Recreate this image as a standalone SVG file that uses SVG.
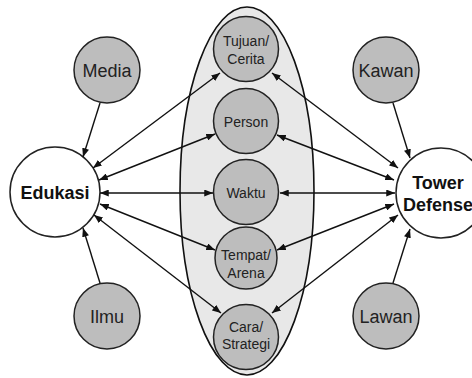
<svg xmlns="http://www.w3.org/2000/svg" width="472" height="378" viewBox="0 0 472 378">
<defs>
<marker id="ah" viewBox="0 0 10 8" refX="10" refY="4" markerWidth="9" markerHeight="7" markerUnits="userSpaceOnUse" orient="auto-start-reverse">
<path d="M0,0 L10,4 L0,8 z" fill="#111"/>
</marker>
</defs>
<style>
.outer{fill:#bdbdbd;stroke:#222;stroke-width:1.5}
.inner{fill:#bdbdbd;stroke:#222;stroke-width:1.5}
.main{fill:#fff;stroke:#222;stroke-width:1.5}
.grp{fill:#e8e8e8;stroke:#111;stroke-width:1.6}
.t{font-family:"Liberation Sans",Arial,sans-serif;fill:#222;text-anchor:middle}
.to{font-size:18px}
.ti{font-size:14px}
.tb{font-size:18px;font-weight:bold;fill:#111}
.c line{stroke:#111;stroke-width:1.4}
.c .d{marker-start:url(#ah);marker-end:url(#ah)}
.c .s{marker-end:url(#ah)}
</style>
<rect width="472" height="378" fill="#fff"/>
<ellipse id="group" class="grp" cx="247" cy="191" rx="67" ry="184"/>
<g id="media"><circle class="outer" cx="107" cy="70" r="33"/><text class="t to" x="107" y="76.5">Media</text></g>
<g id="kawan"><circle class="outer" cx="386" cy="70" r="33"/><text class="t to" x="386" y="76.5">Kawan</text></g>
<g id="ilmu"><circle class="outer" cx="107" cy="316" r="33"/><text class="t to" x="107" y="322.5">Ilmu</text></g>
<g id="lawan"><circle class="outer" cx="386" cy="316" r="33"/><text class="t to" x="386" y="322.5">Lawan</text></g>
<g id="edukasi"><circle class="main" cx="55" cy="192" r="45"/><text class="t tb" x="55" y="199">Edukasi</text></g>
<g id="tower"><circle class="main" cx="441" cy="193" r="45"/><text class="t tb" x="438" y="189">Tower</text><text class="t tb" x="438" y="211">Defense</text></g>
<g id="tujuan"><circle class="inner" cx="246" cy="49" r="32.5"/><text class="t ti" x="246" y="46">Tujuan/</text><text class="t ti" x="246" y="64">Cerita</text></g>
<g id="person"><circle class="inner" cx="246" cy="121" r="32.5"/><text class="t ti" x="246" y="127">Person</text></g>
<g id="waktu"><circle class="inner" cx="246" cy="192" r="32.5"/><text class="t ti" x="246" y="198">Waktu</text></g>
<g id="tempat"><circle class="inner" cx="246" cy="258" r="31"/><text class="t ti" x="246" y="260">Tempat/</text><text class="t ti" x="246" y="278">Arena</text></g>
<g id="cara"><circle class="inner" cx="246" cy="337" r="32.5"/><text class="t ti" x="246" y="332">Cara/</text><text class="t ti" x="246" y="349">Strategi</text></g>
<g id="connectors" class="c">
<line class="s" x1="100" y1="103" x2="83" y2="157"/>
<line class="s" x1="100" y1="283" x2="83" y2="228"/>
<line class="s" x1="393" y1="103" x2="410" y2="158"/>
<line class="s" x1="393" y1="283" x2="410" y2="229"/>
<line class="d" x1="93" y1="168" x2="220" y2="73"/>
<line class="d" x1="99" y1="180" x2="215" y2="134"/>
<line class="d" x1="100" y1="193" x2="213" y2="193"/>
<line class="d" x1="100" y1="204" x2="215" y2="250"/>
<line class="d" x1="94" y1="215" x2="221" y2="313"/>
<line class="d" x1="272" y1="73" x2="398" y2="168"/>
<line class="d" x1="277" y1="135" x2="394" y2="180"/>
<line class="d" x1="280" y1="193" x2="395" y2="193"/>
<line class="d" x1="277" y1="250" x2="394" y2="204"/>
<line class="d" x1="272" y1="313" x2="398" y2="215"/>
</g>
</svg>
